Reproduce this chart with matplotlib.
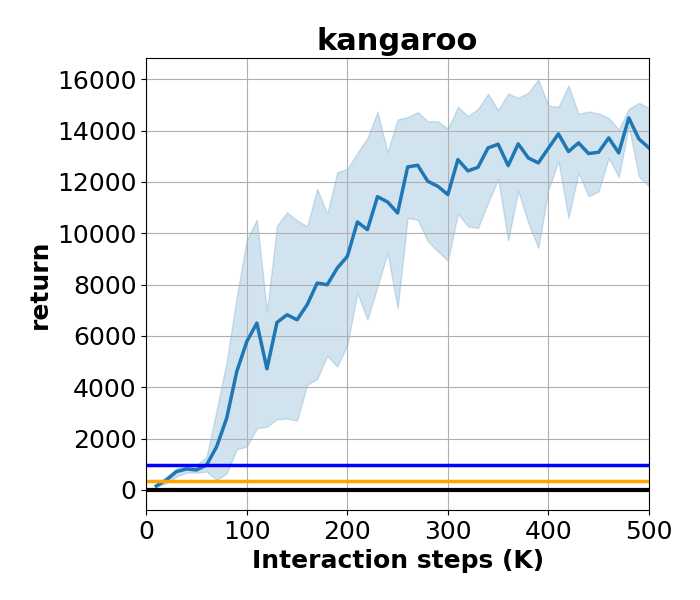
import numpy as np
import matplotlib
matplotlib.use('Agg')
import matplotlib.pyplot as plt

steps = np.arange(10, 510, 10)
mean_ret = [156, 390, 715, 820, 780, 975, 1690, 2800, 4615, 5785,
            6500, 4720, 6526, 6825, 6630, 7215, 8060, 7995, 8645, 9100,
            10440, 10140, 11427, 11219, 10790, 12585, 12650, 12026, 11830, 11506,
            12871, 12429, 12572, 13326, 13469, 12637, 13482, 12936, 12741, 13313,
            13872, 13183, 13521, 13105, 13157, 13716, 13131, 14496, 13677, 13326]
upper = [195, 520, 845, 910, 975, 1300, 3120, 5005, 7540, 9750,
         10530, 6955, 10296, 10816, 10504, 10270, 11726, 10764, 12377, 12507,
         13131, 13716, 14730, 13170, 14431, 14522, 14717, 14366, 14366, 14067,
         14925, 14561, 14847, 15432, 14795, 15445, 15276, 15471, 15991, 14977,
         14925, 15757, 14652, 14743, 14665, 14496, 14041, 14847, 15081, 14886]
lower = [130, 260, 520, 676, 676, 715, 390, 650, 1586, 1690,
         2405, 2470, 2756, 2782, 2704, 4095, 4329, 5226, 4810, 5655,
         7670, 6630, 7930, 9230, 7085, 10596, 10531, 9686, 9296, 8932,
         10765, 10271, 10206, 11181, 12117, 9725, 11662, 10401, 9426, 11701,
         12806, 10596, 12351, 11441, 11636, 12936, 12195, 14171, 12221, 11831]
blue_ref = 975
orange_ref = 340
zero_ref = 0

fig = plt.figure(figsize=(7, 6), dpi=100)
ax = fig.add_axes([0.209, 0.15, 0.718, 0.753])
ax.fill_between(steps, lower, upper, color='tab:blue', alpha=0.2)
ax.plot(steps, mean_ret, color='tab:blue', lw=2.5)
ax.axhline(blue_ref, color='blue', lw=2.5)
ax.axhline(orange_ref, color='orange', lw=2.5)
ax.axhline(zero_ref, color='black', lw=3)
ax.set_xlim(0, 500)
ax.set_ylim(-780, 16820)
ax.set_xticks([0, 100, 200, 300, 400, 500])
ax.set_yticks(np.arange(0, 16001, 2000))
ax.grid(True)
ax.tick_params(labelsize=18)
ax.set_title('kangaroo', fontsize=22, fontweight='bold')
ax.set_xlabel('Interaction steps (K)', fontsize=18, fontweight='bold')
ax.set_ylabel('return', fontsize=18, fontweight='bold')
plt.savefig('out.png')
